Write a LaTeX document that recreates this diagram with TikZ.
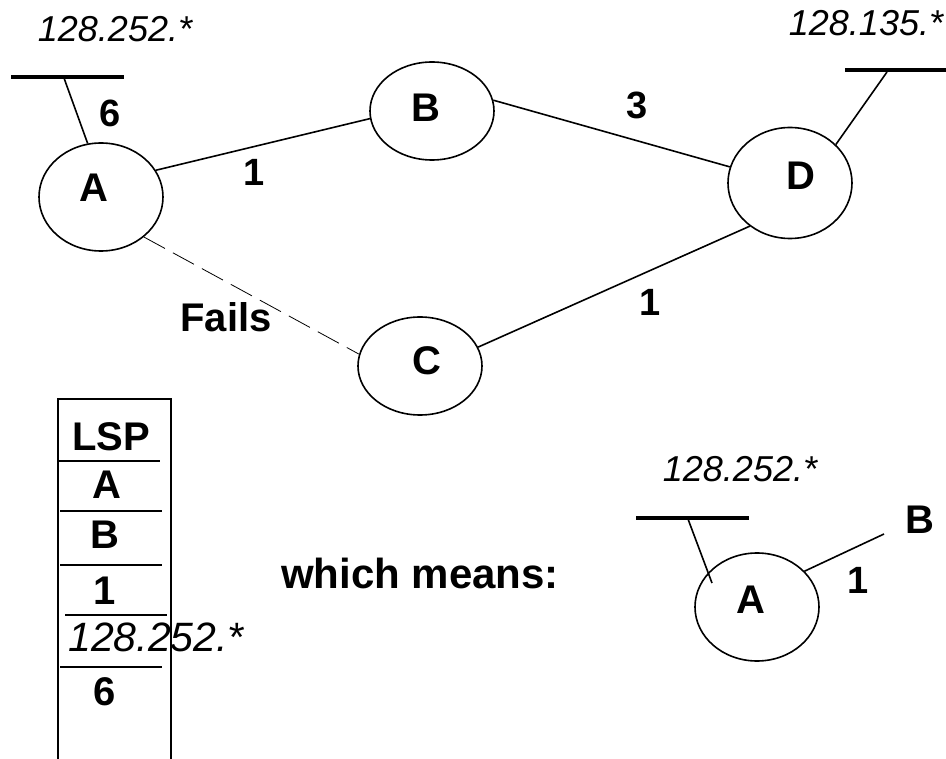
\documentclass[tikz,border=0pt]{standalone}
\usepackage{fontspec}
\setmainfont{Liberation Sans}
\usetikzlibrary{shapes.geometric,positioning,calc}

\tikzset{
	router/.style={draw,ellipse,line width=1.6pt,minimum width=124pt,minimum height=108pt,inner sep=0pt},
	lbl/.style={font=\bfseries\fontsize{40}{46}\selectfont,inner sep=0pt},
	cost/.style={font=\bfseries\fontsize{38}{44}\selectfont,inner sep=0pt},
	addr/.style={font=\itshape\fontsize{36}{42}\selectfont,inner sep=0pt},
	cell/.style={font=\bfseries\fontsize{40}{46}\selectfont,inner sep=0pt},
	link/.style={line width=1.6pt},
	lan/.style={line width=4.5pt}
}

\begin{document}
\begin{tikzpicture}[x=1pt,y=-1pt]
		\useasboundingbox (0,0) rectangle (946,759);
		% the four routers
		\node[router] (A) at (101,197) {};
		\node[lbl] (Atxt) at (94,188) {A};
		\node[router,minimum height=98pt] (B) at (432,111) {};
		\node[lbl] (Btxt) at (426,108) {B};
		\node[router,minimum height=98pt] (C) at (420,366) {};
		\node[lbl] (Ctxt) at (427,361) {C};
		\node[router,minimum height=111pt] (D) at (790,183) {};
		\node[lbl] (Dtxt) at (801,176) {D};
		% links and costs
		\draw[link] (A.26) -- (B.187);
		\draw[link] (B.10) -- (D.165);
		\draw[link] (C.18) -- (D.227);
		\draw[dash pattern=on 24pt off 9pt,line width=0.8pt] (A.-43) -- (C.169);
		\node[cost] (ab) at (254,172) {1};
		\node[cost] (bd) at (637,105) {3};
		\node[cost] (cd) at (650,302) {1};
		\node[lbl] (fails) at (226,317) {Fails};
		% attached networks
		\coordinate (lanAl) at (11,77);
		\coordinate (lanAr) at (124,77);
		\coordinate (lanAt) at (64,78);
		\draw[lan] (lanAl) -- (lanAr);
		\draw[link] (lanAt) -- (A.104);
		\node[cost] (six) at (110,113) {6};
		\node[addr] (netA) at (115,29) {128.252.*};
		\coordinate (lanDl) at (845,70);
		\coordinate (lanDr) at (946,70);
		\coordinate (lanDt) at (887,72);
		\draw[lan] (lanDl) -- (lanDr);
		\draw[link] (lanDt) -- (D.40);
		\node[addr] (netD) at (866,23) {128.135.*};
		% the LSP sent by A
		\draw[link] (58,759) -- (58,399) -- (171,399) -- (171,759);
		\draw[link] (58,461) -- (160,461);
		\draw[link] (60,511) -- (162,511);
		\draw[link] (60,565) -- (162,565);
		\draw[link] (65,615) -- (167,615);
		\draw[link] (60,667) -- (162,667);
		\node[cell] (lsp) at (111,437) {LSP};
		\node[cell] (lspA) at (107,485) {A};
		\node[cell] (lspB) at (105,535) {B};
		\node[cell] (lspc) at (105,591) {1};
		\node[addr,font=\itshape\fontsize{41}{46}\selectfont] (lspnet) at (156,637) {128.252.*};
		\node[cell] (lspd) at (105,692) {6};
		\node[lbl,font=\bfseries\fontsize{42}{48}\selectfont] (means) at (420,573) {which means:};
		% what the LSP describes
		\node[router] (a2) at (757,607) {};
		\node[lbl] (a2txt) at (751,600) {A};
		\coordinate (lan2l) at (636,518);
		\coordinate (lan2r) at (749,518);
		\coordinate (lan2t) at (688,519);
		\coordinate (a2in) at ($(a2)+(-45,-24)$);
		\draw[lan] (lan2l) -- (lan2r);
		\draw[link] (lan2t) -- (a2in);
		\coordinate (toB) at (884,534);
		\draw[link] (a2.37) -- (toB);
		\node[lbl] (b2) at (920,520) {B};
		\node[cost] (a2b) at (858,580) {1};
		\node[addr] (net2) at (740,469) {128.252.*};
	\end{tikzpicture}
\end{document}
